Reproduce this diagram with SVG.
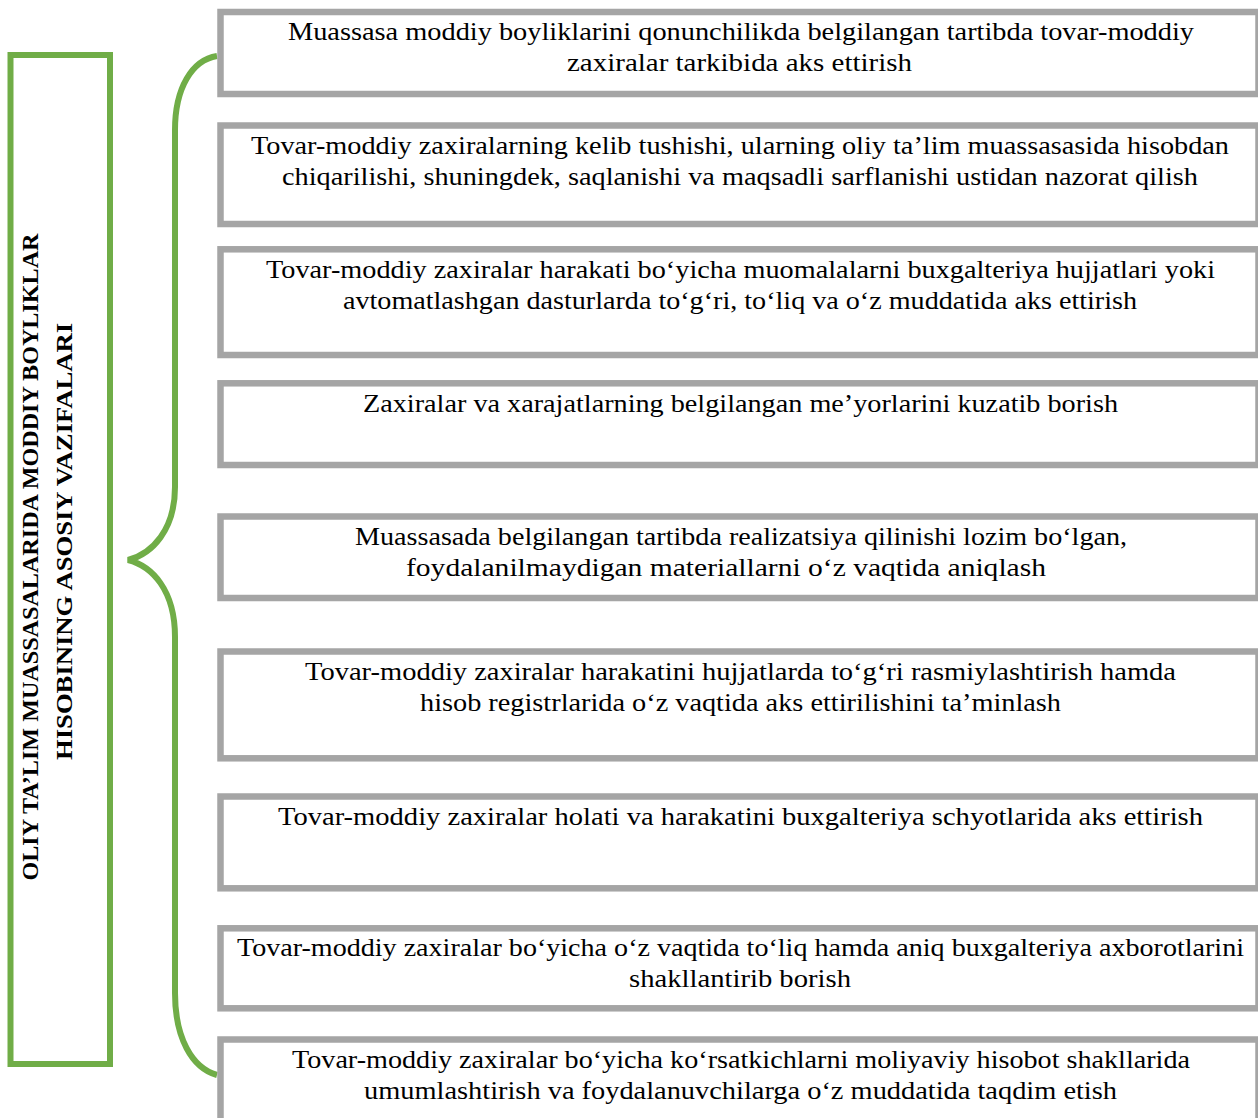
<svg xmlns="http://www.w3.org/2000/svg" width="1258" height="1118" viewBox="0 0 1258 1118">
<style>
.box{fill:#ffffff;stroke:#a5a5a5;stroke-width:6.5}
.t{font-family:"Liberation Serif","Times New Roman",serif;font-size:25px;fill:#000;text-anchor:middle}
.v{font-family:"Liberation Serif","Times New Roman",serif;font-size:23.5px;font-weight:bold;fill:#000;text-anchor:middle}
.g{fill:none;stroke:#70ad47;stroke-width:6}
</style>
<rect width="1258" height="1118" fill="#ffffff"/>
<g id="title">
<rect x="10.5" y="55" width="99.5" height="1009" class="g"/>
<text class="v" transform="translate(38,557) rotate(-90)" textLength="647" lengthAdjust="spacingAndGlyphs">OLIY TA’LIM MUASSASALARIDA MODDIY BOYLIKLAR</text>
<text class="v" transform="translate(72,541.5) rotate(-90)" textLength="437" lengthAdjust="spacingAndGlyphs">HISOBINING ASOSIY VAZIFALARI</text>
</g>
<g id="connectors">
<path class="g" stroke-width="5.5" d="M217 56 C192 60 175 88 175 130 L175 487 C175 530 152 554 128 560 C152 566 175 590 175 637 L175 993 C175 1038 192 1068 217 1075"/>
</g>
<g id="n1">
<rect class="box" x="220.5" y="12" width="1038" height="82"/>
<text class="t" x="741" y="40" textLength="906" lengthAdjust="spacingAndGlyphs">Muassasa moddiy boyliklarini qonunchilikda belgilangan tartibda tovar-moddiy</text>
<text class="t" x="739.5" y="71" textLength="345" lengthAdjust="spacingAndGlyphs">zaxiralar tarkibida aks ettirish</text>
</g>
<g id="n2">
<rect class="box" x="220.5" y="125.5" width="1038" height="98.5"/>
<text class="t" x="740" y="153.5" textLength="978" lengthAdjust="spacingAndGlyphs">Tovar-moddiy zaxiralarning kelib tushishi, ularning oliy ta’lim muassasasida hisobdan</text>
<text class="t" x="740" y="184.5" textLength="916" lengthAdjust="spacingAndGlyphs">chiqarilishi, shuningdek, saqlanishi va maqsadli sarflanishi ustidan nazorat qilish</text>
</g>
<g id="n3">
<rect class="box" x="220.5" y="249.3" width="1038" height="105.7"/>
<text class="t" x="740.5" y="277.5" textLength="949" lengthAdjust="spacingAndGlyphs">Tovar-moddiy zaxiralar harakati bo‘yicha muomalalarni buxgalteriya hujjatlari yoki</text>
<text class="t" x="740" y="308.5" textLength="794" lengthAdjust="spacingAndGlyphs">avtomatlashgan dasturlarda to‘g‘ri, to‘liq va o‘z muddatida aks ettirish</text>
</g>
<g id="n4">
<rect class="box" x="220.5" y="383.3" width="1038" height="81.7"/>
<text class="t" x="740.5" y="411.5" textLength="755" lengthAdjust="spacingAndGlyphs">Zaxiralar va xarajatlarning belgilangan me’yorlarini kuzatib borish</text>
</g>
<g id="n5">
<rect class="box" x="220.5" y="516.5" width="1038" height="81.5"/>
<text class="t" x="741" y="544.5" textLength="772" lengthAdjust="spacingAndGlyphs">Muassasada belgilangan tartibda realizatsiya qilinishi lozim bo‘lgan,</text>
<text class="t" x="726" y="575.5" textLength="640" lengthAdjust="spacingAndGlyphs">foydalanilmaydigan materiallarni o‘z vaqtida aniqlash</text>
</g>
<g id="n6">
<rect class="box" x="220.5" y="651.5" width="1038" height="106.8"/>
<text class="t" x="740.5" y="679.5" textLength="871" lengthAdjust="spacingAndGlyphs">Tovar-moddiy zaxiralar harakatini hujjatlarda to‘g‘ri rasmiylashtirish hamda</text>
<text class="t" x="740.5" y="710.5" textLength="641" lengthAdjust="spacingAndGlyphs">hisob registrlarida o‘z vaqtida aks ettirilishini ta’minlash</text>
</g>
<g id="n7">
<rect class="box" x="220.5" y="796.5" width="1038" height="91.8"/>
<text class="t" x="740.5" y="824.5" textLength="925" lengthAdjust="spacingAndGlyphs">Tovar-moddiy zaxiralar holati va harakatini buxgalteriya schyotlarida aks ettirish</text>
</g>
<g id="n8">
<rect class="box" x="220.5" y="928.3" width="1038" height="80"/>
<text class="t" x="740.5" y="956.3" textLength="1007" lengthAdjust="spacingAndGlyphs">Tovar-moddiy zaxiralar bo‘yicha o‘z vaqtida to‘liq hamda aniq buxgalteriya axborotlarini</text>
<text class="t" x="740" y="987.3" textLength="222" lengthAdjust="spacingAndGlyphs">shakllantirib borish</text>
</g>
<g id="n9">
<rect class="box" x="220.5" y="1039.5" width="1038" height="90"/>
<text class="t" x="741" y="1067.5" textLength="898" lengthAdjust="spacingAndGlyphs">Tovar-moddiy zaxiralar bo‘yicha ko‘rsatkichlarni moliyaviy hisobot shakllarida</text>
<text class="t" x="740.5" y="1098.5" textLength="753" lengthAdjust="spacingAndGlyphs">umumlashtirish va foydalanuvchilarga o‘z muddatida taqdim etish</text>
</g>
</svg>
